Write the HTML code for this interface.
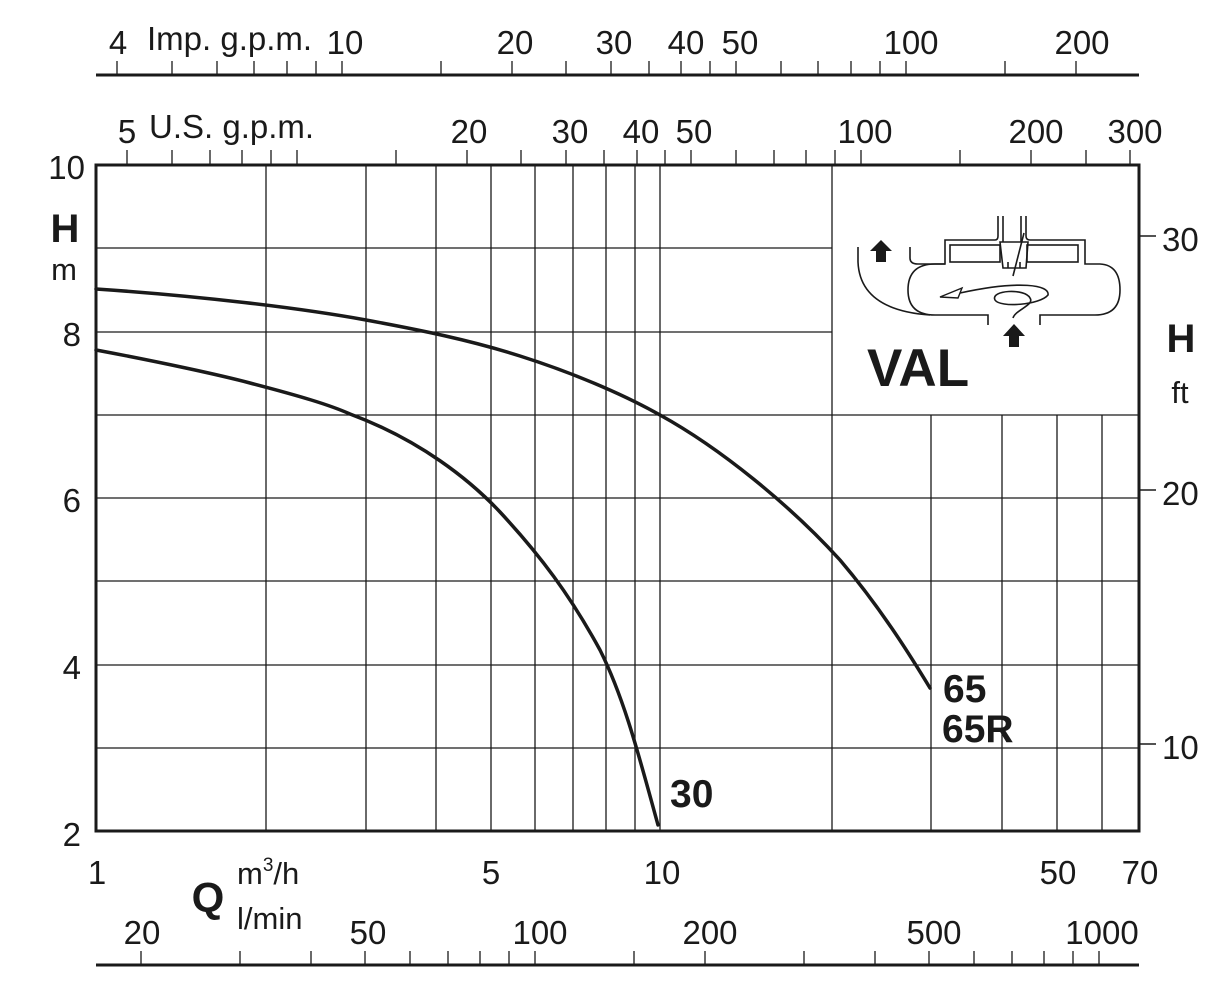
<!DOCTYPE html>
<html><head><meta charset="utf-8"><style>
html,body{margin:0;padding:0;background:#fff}
svg{display:block}
text{font-family:"Liberation Sans",sans-serif;fill:#1a1a1a}
</style></head><body>
<svg width="1224" height="1003" viewBox="0 0 1224 1003" xmlns="http://www.w3.org/2000/svg">
<g stroke="#1a1a1a" stroke-width="1.3" fill="none">
<line x1="96" y1="748" x2="1139" y2="748"/>
<line x1="96" y1="665" x2="1139" y2="665"/>
<line x1="96" y1="581" x2="1139" y2="581"/>
<line x1="96" y1="498" x2="1139" y2="498"/>
<line x1="96" y1="415" x2="1139" y2="415"/>
<line x1="96" y1="332" x2="832" y2="332"/>
<line x1="96" y1="248" x2="832" y2="248"/>
<line x1="266" y1="165" x2="266" y2="831"/>
<line x1="366" y1="165" x2="366" y2="831"/>
<line x1="436" y1="165" x2="436" y2="831"/>
<line x1="491" y1="165" x2="491" y2="831"/>
<line x1="535" y1="165" x2="535" y2="831"/>
<line x1="573" y1="165" x2="573" y2="831"/>
<line x1="606" y1="165" x2="606" y2="831"/>
<line x1="635" y1="165" x2="635" y2="831"/>
<line x1="660" y1="165" x2="660" y2="831"/>
<line x1="832" y1="165" x2="832" y2="831"/>
<line x1="931" y1="415" x2="931" y2="831"/>
<line x1="1002" y1="415" x2="1002" y2="831"/>
<line x1="1057" y1="415" x2="1057" y2="831"/>
<line x1="1102" y1="415" x2="1102" y2="831"/>
</g>
<rect x="96" y="165" width="1043" height="666" fill="none" stroke="#1a1a1a" stroke-width="3"/>
<g stroke="#1a1a1a" stroke-width="1.5">
<line x1="1139" y1="236" x2="1156" y2="236"/>
<line x1="1139" y1="490" x2="1156" y2="490"/>
<line x1="1139" y1="744" x2="1156" y2="744"/>
</g>
<line x1="96" y1="75" x2="1139" y2="75" stroke="#1a1a1a" stroke-width="3"/>
<g stroke="#1a1a1a" stroke-width="1.3">
<line x1="117" y1="61" x2="117" y2="75"/><line x1="172" y1="61" x2="172" y2="75"/><line x1="217" y1="61" x2="217" y2="75"/><line x1="254" y1="61" x2="254" y2="75"/><line x1="287" y1="61" x2="287" y2="75"/><line x1="316" y1="61" x2="316" y2="75"/><line x1="342" y1="61" x2="342" y2="75"/><line x1="441" y1="61" x2="441" y2="75"/><line x1="512" y1="61" x2="512" y2="75"/><line x1="566" y1="61" x2="566" y2="75"/><line x1="611" y1="61" x2="611" y2="75"/><line x1="649" y1="61" x2="649" y2="75"/><line x1="681" y1="61" x2="681" y2="75"/><line x1="710" y1="61" x2="710" y2="75"/><line x1="736" y1="61" x2="736" y2="75"/><line x1="781" y1="61" x2="781" y2="75"/><line x1="818" y1="61" x2="818" y2="75"/><line x1="851" y1="61" x2="851" y2="75"/><line x1="880" y1="61" x2="880" y2="75"/><line x1="906" y1="61" x2="906" y2="75"/><line x1="1005" y1="61" x2="1005" y2="75"/><line x1="1076" y1="61" x2="1076" y2="75"/>
<line x1="127" y1="150" x2="127" y2="165"/><line x1="172" y1="150" x2="172" y2="165"/><line x1="210" y1="150" x2="210" y2="165"/><line x1="242" y1="150" x2="242" y2="165"/><line x1="271" y1="150" x2="271" y2="165"/><line x1="297" y1="150" x2="297" y2="165"/><line x1="396" y1="150" x2="396" y2="165"/><line x1="467" y1="150" x2="467" y2="165"/><line x1="521" y1="150" x2="521" y2="165"/><line x1="566" y1="150" x2="566" y2="165"/><line x1="604" y1="150" x2="604" y2="165"/><line x1="637" y1="150" x2="637" y2="165"/><line x1="665" y1="150" x2="665" y2="165"/><line x1="691" y1="150" x2="691" y2="165"/><line x1="736" y1="150" x2="736" y2="165"/><line x1="774" y1="150" x2="774" y2="165"/><line x1="806" y1="150" x2="806" y2="165"/><line x1="835" y1="150" x2="835" y2="165"/><line x1="861" y1="150" x2="861" y2="165"/><line x1="960" y1="150" x2="960" y2="165"/><line x1="1031" y1="150" x2="1031" y2="165"/><line x1="1086" y1="150" x2="1086" y2="165"/><line x1="1130" y1="150" x2="1130" y2="165"/>
<line x1="141" y1="951" x2="141" y2="965"/><line x1="240" y1="951" x2="240" y2="965"/><line x1="311" y1="951" x2="311" y2="965"/><line x1="365" y1="951" x2="365" y2="965"/><line x1="410" y1="951" x2="410" y2="965"/><line x1="448" y1="951" x2="448" y2="965"/><line x1="480" y1="951" x2="480" y2="965"/><line x1="509" y1="951" x2="509" y2="965"/><line x1="535" y1="951" x2="535" y2="965"/><line x1="634" y1="951" x2="634" y2="965"/><line x1="705" y1="951" x2="705" y2="965"/><line x1="804" y1="951" x2="804" y2="965"/><line x1="875" y1="951" x2="875" y2="965"/><line x1="929" y1="951" x2="929" y2="965"/><line x1="974" y1="951" x2="974" y2="965"/><line x1="1012" y1="951" x2="1012" y2="965"/><line x1="1044" y1="951" x2="1044" y2="965"/><line x1="1073" y1="951" x2="1073" y2="965"/><line x1="1099" y1="951" x2="1099" y2="965"/>
</g>
<line x1="96" y1="965" x2="1139" y2="965" stroke="#1a1a1a" stroke-width="3"/>

<g font-size="33" text-anchor="middle">
<text x="118" y="54">4</text>
<text x="345" y="54">10</text>
<text x="515" y="54">20</text>
<text x="614" y="54">30</text>
<text x="686" y="54">40</text>
<text x="740" y="54">50</text>
<text x="911" y="54">100</text>
<text x="1082" y="54">200</text>
<text x="127" y="143">5</text>
<text x="469" y="143">20</text>
<text x="570" y="143">30</text>
<text x="641" y="143">40</text>
<text x="694" y="143">50</text>
<text x="865" y="143">100</text>
<text x="1036" y="143">200</text>
<text x="1135" y="143">300</text>
</g>
<text x="147" y="50" font-size="33">Imp. g.p.m.</text>
<text x="149" y="138" font-size="33">U.S. g.p.m.</text>

<g font-size="33" text-anchor="end">
<text x="85" y="179">10</text>
<text x="81" y="346">8</text>
<text x="81" y="512">6</text>
<text x="81" y="679">4</text>
<text x="81" y="846">2</text>
</g>
<text x="65" y="242" font-size="40" font-weight="bold" text-anchor="middle">H</text>
<text x="64" y="280" font-size="31" text-anchor="middle">m</text>
<g font-size="33" text-anchor="start">
<text x="1162" y="251">30</text>
<text x="1162" y="505">20</text>
<text x="1162" y="759">10</text>
</g>
<text x="1181" y="352" font-size="40" font-weight="bold" text-anchor="middle">H</text>
<text x="1180" y="403" font-size="31" text-anchor="middle">ft</text>

<g font-size="33" text-anchor="middle">
<text x="97" y="884">1</text>
<text x="491" y="884">5</text>
<text x="662" y="884">10</text>
<text x="1058" y="884">50</text>
<text x="1140" y="884">70</text>
<text x="142" y="944">20</text>
<text x="368" y="944">50</text>
<text x="540" y="944">100</text>
<text x="710" y="944">200</text>
<text x="934" y="944">500</text>
<text x="1102" y="944">1000</text>
</g>
<text x="208" y="912" font-size="42" font-weight="bold" text-anchor="middle">Q</text>
<text x="237" y="884" font-size="31">m<tspan font-size="19" dy="-13">3</tspan><tspan dy="13">/h</tspan></text>
<text x="237" y="929" font-size="31">l/min</text>

<g fill="none" stroke="#1a1a1a" stroke-width="3.5" stroke-linejoin="round" stroke-linecap="round">
<path d="M96,289 C200,296 300,308 366,320 C420,330 470,340 520,356 C580,375 630,398 660,415 C720,448 790,505 840,560 C880,607 910,655 930,688"/>
<path d="M96,350 C160,362 220,375 250,383 C300,396 330,405 350,414 C420,440 470,480 500,512 C540,555 570,595 600,650 C625,700 640,760 658,825"/>
</g>
<g font-size="39" font-weight="bold">
<text x="943" y="702">65</text>
<text x="942" y="742">65R</text>
<text x="670" y="807">30</text>
</g>

<g fill="none" stroke="#1a1a1a" stroke-width="1.6">
<path d="M858,247 L858,262 Q860,310 930,315"/>
<path d="M910,247 L910,258 Q910,264 918,264 L945,264 L945,240 L995,240 Q998,240 998,236 L998,216"/>
<path d="M1026,216 L1026,236 Q1026,240 1030,240 L1085,240 L1085,264 L1100,264 Q1120,265 1120,290 Q1120,315 1095,315 L1040,315 L1040,325"/>
<path d="M988,325 L988,315 L935,315 Q908,315 908,290 Q908,264 935,264 L945,264"/>
<rect x="950" y="245" width="50" height="17"/>
<rect x="1027" y="245" width="51" height="17"/>
<line x1="1003" y1="216" x2="1003" y2="242"/>
<line x1="1021" y1="216" x2="1021" y2="242"/>
<path d="M1000,242 L1028,242 L1026,268 L1003,268 Z"/>
<line x1="1008" y1="262" x2="1008" y2="268"/><line x1="1020" y1="262" x2="1020" y2="268"/>
<line x1="1024" y1="233" x2="1013" y2="276"/>
<path d="M960,293 C1020,280 1050,285 1048,295 C1040,305 1000,308 995,300 C990,290 1025,288 1030,298 C1035,305 1015,310 1013,318"/>
<path d="M940,297 L962,288 L958,298 Z" stroke-width="1.4"/>
</g>
<path d="M870,251 L881,240 L892,251 L886,251 L886,262 L876,262 L876,251 Z" fill="#1a1a1a"/>
<path d="M1003,336 L1014,324 L1025,336 L1019,336 L1019,347 L1009,347 L1009,336 Z" fill="#1a1a1a"/>
<text x="867" y="386" font-size="53" font-weight="bold">VAL</text>
</svg>
</body></html>
